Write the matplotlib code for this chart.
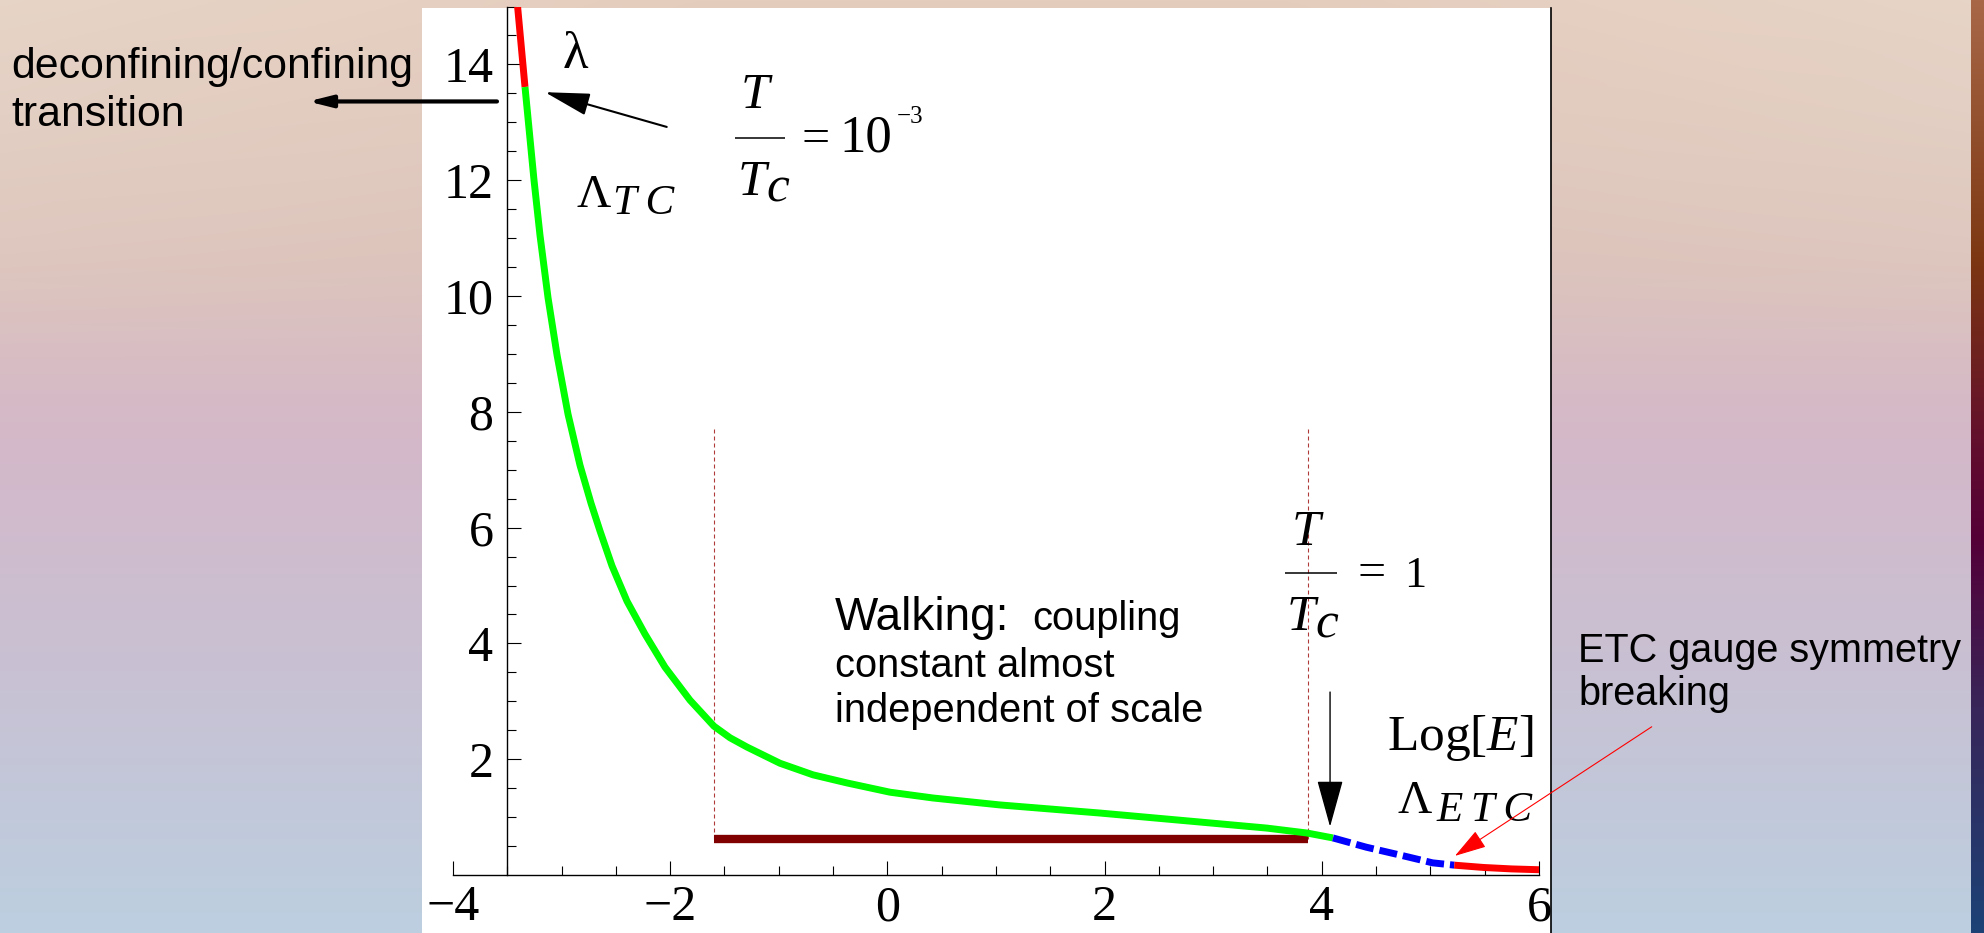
import numpy as np
import matplotlib.pyplot as plt
from matplotlib.colors import to_rgb
from matplotlib.patches import Rectangle, FancyArrowPatch
from matplotlib.transforms import Bbox, TransformedBbox

plt.rcParams['mathtext.fontset'] = 'custom'
plt.rcParams['mathtext.rm'] = 'Liberation Serif'
plt.rcParams['mathtext.it'] = 'Liberation Serif:italic'

SERIF = ['Liberation Serif', 'DejaVu Serif']
SANS = ['Liberation Sans', 'DejaVu Sans']

# running coupling lambda vs Log[E], in four stretches
x_confined = [-3.42, -3.337]
y_confined = [15.3, 13.61]

x_walking = [-3.337, -3.254, -3.199, -3.125, -3.042, -2.941, -2.831, -2.729,
             -2.646, -2.536, -2.398, -2.232, -2.048, -1.818, -1.597, -1.449,
             -1.293, -0.989, -0.685, -0.372, 0.024, 0.420, 1.037, 1.958,
             2.878, 3.495, 3.864, 4.103]
y_walking = [13.61, 12.00, 11.05, 9.97, 8.98, 7.96, 7.08, 6.42,
             5.94, 5.34, 4.73, 4.16, 3.59, 3.02, 2.57, 2.37,
             2.21, 1.93, 1.73, 1.59, 1.43, 1.33, 1.21, 1.07,
             0.915, 0.81, 0.725, 0.64]

x_crossover = [4.103, 4.41, 4.72, 5.02, 5.22]
y_crossover = [0.64, 0.48, 0.345, 0.21, 0.17]

x_etc = [5.22, 5.49, 5.75, 6.02]
y_etc = [0.17, 0.13, 0.105, 0.09]

# walking window
walk_start, walk_end = -1.6, 3.87
walk_level = 0.62
guide_top = 7.74

y_axis_at = -3.5
xticks = [-4, -2, 0, 2, 4, 6]
yticks = [2, 4, 6, 8, 10, 12, 14]

W, H = 1984, 933
fig = plt.figure(figsize=(W / 100, H / 100), dpi=100)


def gradient(stops, colors, n=400):
    t = np.linspace(0, 1, n)
    rgb = np.array([to_rgb(c) for c in colors])
    return np.stack([np.interp(t, stops, rgb[:, k]) for k in range(3)], axis=-1)


# slide background
bg = fig.add_axes([0, 0, 1, 1])
bg.set_axis_off()
col = gradient([0, 0.28, 0.47, 0.72, 1.0],
               ['#e5cdbd', '#dcc3bb', '#d4b8c9', '#c8c1d3', '#bccfe0'])
img = np.repeat(col[:, None, :], 200, axis=1)
xs = np.linspace(0, 1, 200)
ys = np.linspace(0, 1, 400)
edge = np.clip(1 - np.minimum(xs, 1 - xs) / 0.35, 0, 1)[None, :]
top = np.clip(1 - ys / 0.4, 0, 1)[:, None]
mix = (0.45 * edge * top)[..., None]
img = img * (1 - mix) + np.array(to_rgb('#e8ddd3')) * mix
bg.imshow(img, extent=(0, 1, 0, 1), aspect='auto', origin='upper', zorder=0)

strip = gradient([0, 0.28, 0.5, 0.58, 0.75, 1.0],
                 ['#a86848', '#7c3612', '#5e0a30', '#540038', '#3a2458', '#1c4276'])
bg.imshow(strip[:, None, :], extent=(1971 / W, 1, 0, 1), aspect='auto',
          origin='upper', zorder=0)

panel_top = 1 - 8 / H
bg.add_patch(Rectangle((422 / W, 0), (1551 - 422) / W, panel_top,
                       facecolor='white', edgecolor='none', zorder=1))
bg.plot([1551 / W, 1551 / W], [0, panel_top], color='black', lw=1.2, zorder=2)
bg.set_xlim(0, 1)
bg.set_ylim(0, 1)

# plot
ax = fig.add_axes([453 / W, 58 / H, 1086 / W, 868.5 / H])
ax.patch.set_alpha(0)
ax.set_xlim(-4, 6)
ax.set_ylim(0, 15)

for side in ['top', 'right']:
    ax.spines[side].set_visible(False)
ax.spines['left'].set_position(('data', y_axis_at))
for side in ['left', 'bottom']:
    ax.spines[side].set_linewidth(1.0)

ax.set_xticks(xticks)
ax.set_xticks(np.arange(-4, 6.01, 0.5), minor=True)
ax.set_yticks(yticks)
ax.set_yticks(np.arange(0.5, 15.01, 0.5), minor=True)
ax.tick_params(which='both', direction='in', width=0.8, color='black')
ax.tick_params(which='major', length=10, labelsize=36, labelfontfamily='Liberation Serif')
ax.tick_params(which='minor', length=6.5)
ax.tick_params(axis='x', pad=7)
ax.tick_params(axis='y', pad=10)

clip = TransformedBbox(Bbox.from_extents(422 / W, 0, 1551 / W, panel_top), fig.transFigure)
for lab in ax.get_xticklabels():
    lab.set_clip_box(clip)
    lab.set_clip_on(True)

ax.vlines([walk_start, walk_end], walk_level, guide_top, colors='#b03a3a',
          lw=0.8, linestyles=(0, (3.6, 2.7)), zorder=2)
ax.hlines(walk_level, walk_start, walk_end, colors='#800000', lw=6, zorder=3)

line_kw = dict(lw=5, solid_capstyle='butt', solid_joinstyle='round', zorder=4)
ax.plot(x_confined, y_confined, color='#ff0000', **line_kw)
ax.plot(x_walking, y_walking, color='#00ff00', **line_kw)
ax.plot(x_crossover, y_crossover, color='#0000ff', lw=5, dashes=(2.6, 0.86),
        dash_capstyle='butt', zorder=4)
ax.plot(x_etc, y_etc, color='#ff0000', **line_kw)


def arrow(tail, tip, color, lw, hl, hw):
    ax.add_patch(FancyArrowPatch(tail, tip,
                                 arrowstyle=f'-|>,head_length={hl},head_width={hw}',
                                 mutation_scale=1, color=color, lw=lw,
                                 shrinkA=0, shrinkB=0, clip_on=False, zorder=6))


def serif(x, y, s, size, italic=False, ha='left'):
    ax.text(x, y, s, fontsize=size, family=SERIF, style='italic' if italic else 'normal',
            ha=ha, va='baseline', zorder=6)


def sans(x, y, s, size):
    ax.text(x, y, s, fontsize=size, family=SANS, ha='left', va='baseline', zorder=6)


def frac_bar(x0, x1, y):
    ax.plot([x0, x1], [y, y], color='black', lw=1.1, solid_capstyle='butt', zorder=6)


# confinement end
serif(-2.99, 13.94, 'λ', 38)
arrow((-2.032, 12.92), (-3.153, 13.52), 'black', 1.5, 28, 7)
serif(-2.861, 11.54, 'Λ', 34)
serif(-2.53, 11.42, 'T\u2009C', 31, italic=True)

serif(-1.219, 13.25, 'T', 37, italic=True, ha='center')
frac_bar(-1.403, -0.943, 12.73)
serif(-1.38, 11.74, 'T', 37, italic=True)
serif(-1.113, 11.63, 'c', 37, italic=True)
serif(-0.789, 12.49, '=', 36)
serif(-0.44, 12.49, '10', 38)
serif(0.09, 12.99, '\u22123', 18)

arrow((-3.595, 13.36), (-5.335, 13.36), 'black', 3, 14, 3.5)
fig.text(11.5 / W, 1 - 78 / H, 'deconfining/confining', fontsize=30.8, family=SANS,
         va='baseline')
fig.text(11.5 / W, 1 - 126 / H, 'transition', fontsize=30.8, family=SANS, va='baseline')

# walking window
sans(-0.483, 4.23, 'Walking:', 33)
sans(1.331, 4.23, 'coupling', 28.7)
sans(-0.483, 3.42, 'constant almost', 28.7)
sans(-0.483, 2.64, 'independent of scale', 28.7)

serif(3.854, 5.70, 'T', 37, italic=True, ha='center')
frac_bar(3.661, 4.140, 5.216)
serif(3.675, 4.23, 'T', 37, italic=True)
serif(3.94, 4.11, 'c', 37, italic=True)
serif(4.33, 4.99, '=', 36)
serif(4.76, 4.97, '1', 32)

arrow((4.076, 3.16), (4.076, 0.834), 'black', 1.0, 30, 8.3)

# ETC end
ax.text(4.598, 2.16, r'$\mathrm{Log}[E]$', fontsize=37, ha='left', va='baseline', zorder=6)
serif(4.70, 1.07, 'Λ', 34)
serif(5.06, 0.93, 'E\u2009T\u2009C', 31, italic=True)

arrow((7.038, 2.56), (5.226, 0.33), '#ff0000', 0.8, 20, 6)
fig.text(1578 / W, 1 - 662 / H, 'ETC gauge symmetry', fontsize=28.5, family=SANS,
         va='baseline')
fig.text(1578 / W, 1 - 705 / H, 'breaking', fontsize=28.5, family=SANS, va='baseline')

fig.savefig('out.png', dpi=100)
